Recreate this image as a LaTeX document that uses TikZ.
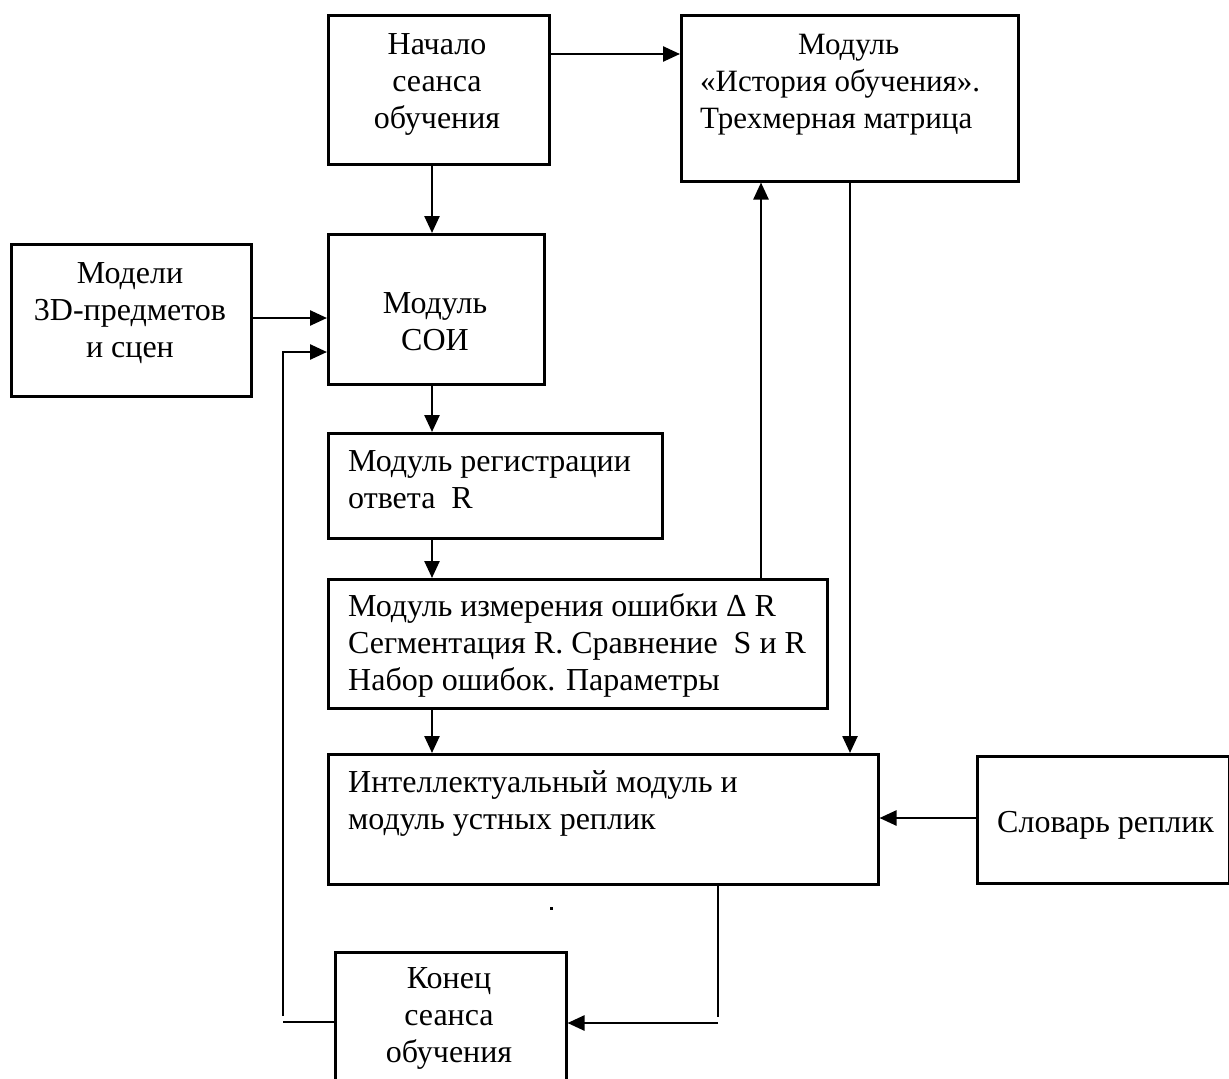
\documentclass[tikz,border=0pt]{standalone}
\usepackage{fontspec}
\setmainfont{Liberation Serif}
\usetikzlibrary{arrows.meta}
\begin{document}
\begin{tikzpicture}[x=1pt,y=-1pt,
  box/.style={draw,line width=2.5pt,inner sep=0pt,anchor=north west},
  txt/.style={font=\fontsize{32}{37}\selectfont,inner sep=0pt},
  arr/.style={line width=2.5pt,-{Triangle[length=17pt,width=15pt]}},
  ln/.style={line width=2.5pt},
  thin/.style={line width=1.4pt}]
\clip (0,0) rectangle (1229,1079);
\fill[white] (0,0) rectangle (1229,1079);
% boxes
\node[box,minimum width=221pt,minimum height=149pt] (nach) at (327,14) {};
\node[box,minimum width=337pt,minimum height=166pt] (hist) at (680,14) {};
\node[box,minimum width=240pt,minimum height=152pt] (mod) at (10,243) {};
\node[box,minimum width=216pt,minimum height=150pt] (soi) at (327,233) {};
\node[box,minimum width=334pt,minimum height=105pt] (reg) at (327,432) {};
\node[box,minimum width=499pt,minimum height=129pt] (izm) at (327,578) {};
\node[box,minimum width=550pt,minimum height=130pt] (intel) at (327,753) {};
\node[box,minimum width=252pt,minimum height=127pt] (slov) at (976,755) {};
\node[box,minimum width=231pt,minimum height=150pt] (kon) at (334,951) {};
% texts (anchor base = baseline of the last line)
\node[txt,align=center,anchor=base] (tnach) at (437,128) {Начало\\сеанса\\обучения};
\node[txt,font=\fontsize{31}{37}\selectfont,align=left,anchor=base west] (thist) at (700,128) {\hspace*{98pt}Модуль\\«История обучения».\\Трехмерная матрица};
\node[txt,align=center,anchor=base] (tmod) at (130,357) {Модели\\3D-предметов\\и сцен};
\node[txt,align=center,anchor=base] (tsoi) at (435,350) {Модуль\\СОИ};
\node[txt,align=left,anchor=base west] (treg) at (348,508) {Модуль регистрации\\ответа\ \ R};
\node[txt,align=left,anchor=base west] (tizm) at (348,690) {Модуль измерения ошибки Δ R\\Сегментация R. Сравнение\ \ S и R\\Набор ошибок. Параметры};
\node[txt,align=left,anchor=base west] (tintel) at (348,829) {Интеллектуальный модуль и\\модуль устных реплик};
\node[txt,align=left,anchor=base west] (tslov) at (997,832) {Словарь реплик};
\node[txt,align=center,anchor=base] (tkon) at (449,1062) {Конец\\сеанса\\обучения};
\fill (550,907) rectangle +(3,3);
% connectors
\draw[arr] (nach.east |- 0,54) -- (hist.west |- 0,54);
\draw[arr] (nach.south -| 432,0) -- (soi.north -| 432,0);
\draw[arr] (mod.east |- 0,318) -- (soi.west |- 0,318);
\draw[arr] (soi.south -| 432,0) -- (reg.north -| 432,0);
\draw[arr] (reg.south -| 432,0) -- (izm.north -| 432,0);
\draw[arr] (izm.south -| 432,0) -- (intel.north -| 432,0);
\draw[arr] (izm.north -| 761,0) -- (hist.south -| 761,0);
\draw[arr] (hist.south -| 850,0) -- (intel.north -| 850,0);
\draw[arr] (slov.west |- 0,818) -- (intel.east |- 0,818);
\coordinate (c1) at (718,1017);
\coordinate (c2) at (718,1023);
\draw[ln] (intel.south -| c1) -- (c1);
\draw[arr] (c2) -- (kon.east |- c2);
\coordinate (c3) at (283,1022);
\coordinate (c4) at (283,1016);
\draw[thin] (kon.west |- c3) -- (c3);
\draw[arr] (c4) -- (283,352) -- (soi.west |- 0,352);
\end{tikzpicture}
\end{document}
